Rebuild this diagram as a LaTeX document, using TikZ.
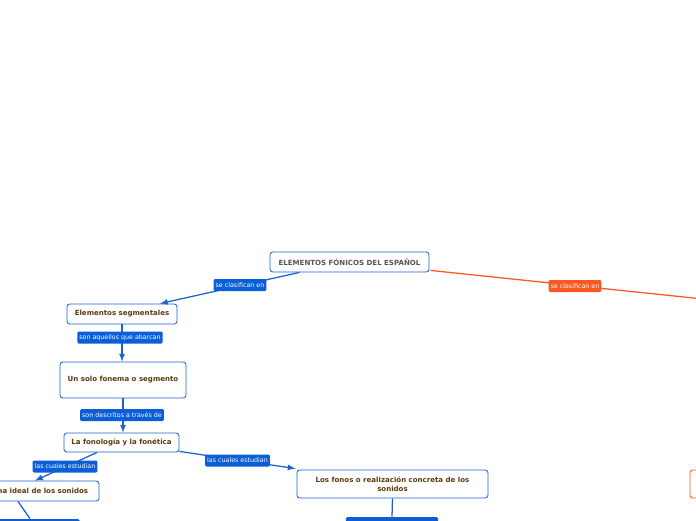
\documentclass[tikz,border=0pt]{standalone}
\usepackage{fontspec}
\setmainfont{DejaVu Sans}
\usetikzlibrary{arrows,positioning,calc}
\definecolor{mapblue}{HTML}{1D63D0}
\definecolor{lblblue}{HTML}{0A5ED7}
\definecolor{maporange}{HTML}{FF5722}
\definecolor{txtbrown}{HTML}{5C3A0E}
\definecolor{txtgray}{HTML}{555555}

\begin{document}
\begin{tikzpicture}[x=0.025cm, y=-0.025cm]
  \tikzset{
    topic/.style={draw=mapblue,line width=0.6pt,rounded corners=2pt,fill=white,inner sep=1pt,
      font=\fontsize{5}{6.5}\selectfont\bfseries,text=txtbrown,align=center},
    maintopic/.style={topic,text=txtgray},
    orangetopic/.style={topic,draw=maporange},
    lbl/.style={fill=lblblue,rounded corners=1pt,text=white,inner sep=1.5pt,
      minimum height=0.3cm,font=\fontsize{4.5}{5}\selectfont},
    orangelbl/.style={lbl,fill=maporange},
    conn/.style={draw=mapblue,line width=0.9pt},
    orangeconn/.style={draw=maporange,line width=0.9pt}
  }
  \clip (0,0) rectangle (696,520);
  % topics
  \node[maintopic,minimum width=3.975cm,minimum height=0.5cm] (main) at (349.5,262) {ELEMENTOS FÓNICOS DEL ESPAÑOL};
  \node[topic,minimum width=2.75cm,minimum height=0.5cm] (seg) at (122,314) {Elementos segmentales};
  \node[topic,minimum width=3.15cm,minimum height=0.9cm] (solo) at (123,380) {Un solo fonema o segmento};
  \node[topic,minimum width=2.875cm,minimum height=0.475cm] (fon) at (121.5,442.5) {La fonología y la fonética};
  \node[topic,minimum width=3.55cm,minimum height=0.5cm] (ideal) at (28,491) {El fonema ideal de los sonidos};
  \node[topic,minimum width=4.775cm,minimum height=0.7cm] (fonos) at (392.5,484) {Los fonos o realización concreta de los\\sonidos};
  \node[orangetopic,minimum width=1.75cm,minimum height=0.7cm] (supra) at (725,484) {};
  \node[lbl,minimum width=2.475cm] (ideallow) at (30,525) {};
  \node[lbl,minimum width=2.3cm] (fonoslow) at (392,523) {};
  \coordinate (supraend) at (760,305);
  % connectors
  \draw[conn,-latex] ($(main.south)+(-50,0)$) -- ($(seg.north)+(38,0)$);
  \draw[conn,-latex] (seg.south) -- (seg.south |- solo.north);
  \draw[conn,-latex] (solo.south) -- (solo.south |- fon.north);
  \draw[conn,-latex] ($(fon.south)+(-24.5,0)$) -- ($(ideal.north)+(7,0)$);
  \draw[conn,-latex] ($(fon.south east)+(0,-1)$) -- ($(fonos.north west)+(-1,-1)$);
  \draw[conn] ($(ideal.south)+(-10,0)$) -- (ideallow.north);
  \draw[conn] (fonos.south) -- (fonoslow.north);
  \draw[orangeconn] ($(main.south east)+(1,-2)$) -- (supraend);
  % labels
  \node[lbl] (lblseg) at (240,285) {se clasifican en};
  \node[lbl] (lblsolo) at (120,337.5) {son aquellos que abarcan};
  \node[lbl] (lblfon) at (122,415) {son descritos a través de};
  \node[lbl] (lblideal) at (65,466.5) {las cuales estudian};
  \node[lbl] (lblfonos) at (237.5,460.5) {las cuales estudian};
  \node[orangelbl] (lblsupra) at (575,286) {se clasifican en};
\end{tikzpicture}
\end{document}
